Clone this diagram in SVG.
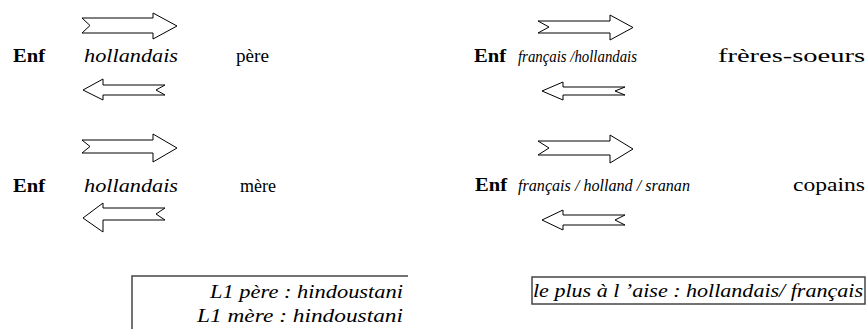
<svg xmlns="http://www.w3.org/2000/svg" width="868" height="329" viewBox="0 0 868 329">
<style>
text{font-family:'Liberation Serif','Times New Roman',serif;fill:#000}
.b{font-weight:bold;font-size:19px}
.r{font-size:19px}
.i{font-style:italic;font-size:19px}
.i2{font-style:italic;font-size:16px}
.s{font-style:italic;font-size:18px}
.a{fill:#fff;stroke:#000;stroke-width:1}
.box{fill:none;stroke:#444;stroke-width:1.5}
</style>
<rect width="868" height="329" fill="#fff"/>
<g id="connectors">
<polygon class="a" points="82,18 153,18 153,13 177,26 153,39 153,33 82,33 90,25.5"/>
<polygon class="a" points="83,90 103,79 103,85 165,85 156,90 165,95 103,95 103,100"/>
<polygon class="a" points="82,140 153,140 153,134 177,148 153,162 153,153 82,153 90,146.5"/>
<polygon class="a" points="83,218 103,203 103,208 165,208 156,214 165,220 103,220 103,232"/>
<polygon class="a" points="538,21 610,21 610,15 633,27.5 610,40 610,33 538,33 549,27"/>
<polygon class="a" points="542,91 563,82 563,87 625,87 615,91 625,95 563,95 563,100"/>
<polygon class="a" points="538,141 610,141 610,135 633,149 610,163 610,155 538,155 549,148"/>
<polygon class="a" points="542,220 563,210 563,215 625,215 615,220 625,225 563,225 563,230"/>
</g>
<g id="enf1"><text class="b" x="13" y="62" textLength="32" lengthAdjust="spacingAndGlyphs">Enf</text></g>
<g id="lang1"><text class="i" x="84" y="62" textLength="94" lengthAdjust="spacingAndGlyphs">hollandais</text></g>
<g id="pere"><text class="r" x="236" y="62" textLength="33" lengthAdjust="spacingAndGlyphs">père</text></g>
<g id="enf2"><text class="b" x="13" y="192" textLength="32" lengthAdjust="spacingAndGlyphs">Enf</text></g>
<g id="lang2"><text class="i" x="84" y="192" textLength="94" lengthAdjust="spacingAndGlyphs">hollandais</text></g>
<g id="mere"><text class="r" x="240" y="192" textLength="36" lengthAdjust="spacingAndGlyphs">mère</text></g>
<g id="enf3"><text class="b" x="474" y="62" textLength="32" lengthAdjust="spacingAndGlyphs">Enf</text></g>
<g id="lang3"><text class="i2" x="518" y="62" textLength="119" lengthAdjust="spacingAndGlyphs">français /hollandais</text></g>
<g id="freres"><text class="r" x="718" y="62" textLength="147" lengthAdjust="spacingAndGlyphs">frères-soeurs</text></g>
<g id="enf4"><text class="b" x="475" y="191" textLength="32" lengthAdjust="spacingAndGlyphs">Enf</text></g>
<g id="lang4"><text class="i2" x="518" y="191" textLength="172" lengthAdjust="spacingAndGlyphs">français / holland / sranan</text></g>
<g id="copains"><text class="r" x="793" y="191" textLength="72" lengthAdjust="spacingAndGlyphs">copains</text></g>
<g id="note1">
<path class="box" d="M132,340 V276 H408"/>
<text class="s" x="403" y="298" text-anchor="end" textLength="193" lengthAdjust="spacingAndGlyphs">L1 père : hindoustani</text>
<text class="s" x="403" y="322" text-anchor="end" textLength="206" lengthAdjust="spacingAndGlyphs">L1 mère : hindoustani</text>
</g>
<g id="note2">
<rect class="box" x="532" y="277" width="333" height="27"/>
<text class="s" x="533" y="297" textLength="330" lengthAdjust="spacingAndGlyphs">le plus à l ’aise : hollandais/ français</text>
</g>
</svg>
